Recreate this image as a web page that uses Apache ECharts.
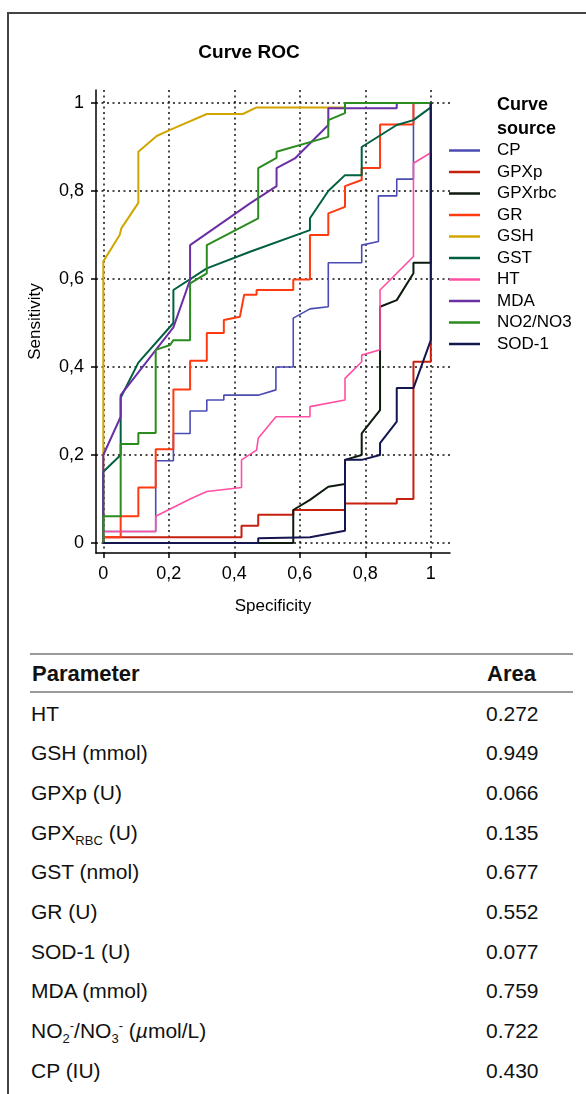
<!DOCTYPE html>
<html>
<head>
<meta charset="utf-8">
<script src="https://cdn.jsdelivr.net/npm/echarts@6/dist/echarts.min.js"></script>
<style>
html,body{margin:0;padding:0;background:#fff;}
body{width:586px;height:1094px;position:relative;overflow:hidden;font-family:"Liberation Sans",Arial,Helvetica,sans-serif;color:#111;}
#frame{position:absolute;left:7px;top:12px;width:620px;height:1120px;border-top:2px solid #444;border-left:2px solid #444;}
#chart{position:absolute;left:0;top:0;width:586px;height:640px;}
.rule{position:absolute;left:30px;width:543px;height:0;border-top:2px solid #9a9a9a;}
.cell{position:absolute;white-space:nowrap;line-height:24px;height:24px;}
.cell sub,.cell sup{font-size:13px;line-height:0;}
</style>
</head>
<body>
<div id="frame"></div>
<div id="chart"></div>
<div id="table"></div>
<script>
// ---------- data ----------
const seriesNames = ['CP','GPXp','GPXrbc','GR','GSH','GST','HT','MDA','NO2/NO3','SOD-1'];
const tickValues = [0, 0.2, 0.4, 0.6, 0.8, 1];

const cpCurve = [[0,0],[0,0.026],[0.16,0.026],[0.16,0.187],[0.214,0.187],[0.214,0.249],[0.265,0.249],[0.265,0.3],[0.316,0.3],[0.316,0.325],[0.368,0.325],[0.368,0.336],[0.473,0.336],[0.527,0.348],[0.527,0.4],[0.58,0.4],[0.58,0.511],[0.631,0.532],[0.687,0.537],[0.687,0.637],[0.789,0.637],[0.789,0.677],[0.84,0.685],[0.84,0.789],[0.896,0.789],[0.896,0.827],[0.947,0.827],[0.947,1],[1,1]];
const gpxpCurve = [[0,0],[0,0.013],[0.422,0.013],[0.422,0.039],[0.473,0.039],[0.473,0.064],[0.58,0.064],[0.58,0.075],[0.738,0.075],[0.738,0.09],[0.896,0.09],[0.896,0.1],[0.947,0.1],[0.947,0.412],[1,0.412],[1,1]];
const gpxrbcCurve = [[0,0],[0.58,0],[0.58,0.075],[0.631,0.098],[0.687,0.128],[0.738,0.134],[0.738,0.189],[0.789,0.2],[0.789,0.249],[0.845,0.302],[0.845,0.537],[0.896,0.552],[0.947,0.613],[0.947,0.637],[1,0.637],[1,1]];
const grCurve = [[0,0],[0,0.013],[0.053,0.013],[0.053,0.061],[0.107,0.061],[0.107,0.126],[0.16,0.126],[0.16,0.213],[0.214,0.213],[0.214,0.349],[0.265,0.349],[0.265,0.414],[0.316,0.414],[0.316,0.477],[0.368,0.477],[0.368,0.507],[0.417,0.514],[0.43,0.564],[0.468,0.564],[0.468,0.575],[0.58,0.575],[0.58,0.599],[0.631,0.599],[0.631,0.7],[0.687,0.7],[0.687,0.749],[0.738,0.764],[0.738,0.811],[0.789,0.825],[0.789,0.852],[0.845,0.852],[0.845,0.951],[0.947,0.951],[0.947,1],[1,1]];
const gshCurve = [[0,0],[0,0.64],[0.05,0.7],[0.055,0.715],[0.107,0.773],[0.107,0.889],[0.163,0.925],[0.204,0.939],[0.316,0.975],[0.426,0.975],[0.468,0.99],[0.738,0.99],[0.738,1],[1,1]];
const gstCurve = [[0,0],[0,0.162],[0.053,0.2],[0.053,0.33],[0.107,0.41],[0.214,0.5],[0.214,0.575],[0.316,0.624],[0.448,0.662],[0.631,0.711],[0.631,0.738],[0.687,0.8],[0.738,0.836],[0.789,0.836],[0.789,0.9],[0.896,0.95],[0.947,0.961],[1,0.99],[1,1]];
const htCurve = [[0,0],[0,0.026],[0.16,0.026],[0.16,0.061],[0.265,0.1],[0.316,0.117],[0.422,0.126],[0.422,0.189],[0.468,0.211],[0.473,0.238],[0.527,0.287],[0.631,0.287],[0.631,0.31],[0.738,0.325],[0.738,0.374],[0.789,0.412],[0.789,0.427],[0.845,0.439],[0.845,0.575],[0.947,0.651],[0.947,0.863],[1,0.887],[1,1]];
const mdaCurve = [[0,0],[0,0.2],[0.053,0.287],[0.053,0.336],[0.214,0.49],[0.265,0.598],[0.265,0.677],[0.448,0.772],[0.529,0.811],[0.529,0.852],[0.585,0.874],[0.687,0.95],[0.687,0.988],[0.896,0.988],[0.896,1],[1,1]];
const no2no3Curve = [[0,0],[0,0.061],[0.053,0.061],[0.053,0.225],[0.107,0.225],[0.107,0.25],[0.16,0.25],[0.16,0.439],[0.204,0.45],[0.214,0.461],[0.265,0.461],[0.265,0.59],[0.316,0.613],[0.316,0.677],[0.473,0.738],[0.473,0.852],[0.529,0.875],[0.529,0.889],[0.687,0.923],[0.687,0.961],[0.738,0.977],[0.738,1],[1,1]];
const sodCurve = [[0,0],[0.473,0],[0.473,0.011],[0.631,0.013],[0.738,0.028],[0.738,0.189],[0.789,0.189],[0.845,0.2],[0.845,0.227],[0.896,0.276],[0.896,0.352],[0.947,0.352],[1,0.461],[1,1]];

const tableParams = ['HT','GSH (mmol)','GPXp (U)','GPX<sub>RBC</sub> (U)','GST (nmol)','GR (U)','SOD-1 (U)','MDA (mmol)','NO<sub>2</sub><sup>-</sup>/NO<sub>3</sub><sup>-</sup> (<i>µ</i>mol/L)','CP (IU)'];
const tableAreas = ['0.272','0.949','0.066','0.135','0.677','0.552','0.077','0.759','0.722','0.430'];

// ---------- styles ----------
const curves = [cpCurve,gpxpCurve,gpxrbcCurve,grCurve,gshCurve,gstCurve,htCurve,mdaCurve,no2no3Curve,sodCurve];
const colors = ['#4b4bb4','#c8200f','#0d1a0d','#ff3a10','#d2a600','#00603f','#ff4fa3','#6b2fa5','#2a8c1e','#151550'];
const widths = [1.6,2,2,2,2,2,1.6,2,2,2];
const FONT = '"Liberation Sans", Arial, Helvetica, sans-serif';

function fmt(v){ return String(v).replace('.', ','); }

const chart = echarts.init(document.getElementById('chart'));
const axisCommon = {
  type:'value',
  nameLocation:'middle',
  nameTextStyle:{fontSize:17,color:'#000',fontFamily:FONT},
  axisLine:{show:true,onZero:false,lineStyle:{color:'#000',width:1.5}},
  axisTick:{show:true,customValues:tickValues,length:5,lineStyle:{color:'#000',width:1.5}},
  axisLabel:{show:true,customValues:tickValues,formatter:fmt,fontSize:18,color:'#000',fontFamily:FONT,margin:12},
  splitLine:{show:true,lineStyle:{color:'#111',type:[2,3.5],width:1.5}}
};
chart.setOption({
  animation:false,
  textStyle:{fontFamily:FONT},
  title:[
    {text:'Curve ROC',left:249,top:43,padding:0,textAlign:'center',textStyle:{fontSize:19,fontWeight:'bold',color:'#000',fontFamily:FONT}},
    {text:'Curve\nsource',left:497,top:93,padding:0,textStyle:{fontSize:18,fontWeight:'bold',lineHeight:24,color:'#000',fontFamily:FONT}}
  ],
  legend:{
    orient:'vertical',left:449,top:142,padding:0,icon:'rect',itemWidth:31,itemHeight:2.5,itemGap:4.5,
    textStyle:{fontSize:17,lineHeight:17,color:'#000',fontFamily:FONT,padding:[0,0,0,12]},
    data:seriesNames
  },
  grid:{left:96,top:90,width:354,height:463,containLabel:false},
  xAxis:Object.assign({},axisCommon,{min:-0.0223,max:1.0586,name:'Specificity',nameGap:45}),
  yAxis:Object.assign({},axisCommon,{min:-0.0227,max:1.0295,name:'Sensitivity',nameGap:52}),
  series:seriesNames.map((n,i)=>({
    name:n,type:'line',data:curves[i],showSymbol:false,symbol:'none',
    lineStyle:{color:colors[i],width:widths[i]},itemStyle:{color:colors[i]},z:2
  }))
});

// ---------- table ----------
const tbl = document.getElementById('table');
function addRule(y){ const d=document.createElement('div'); d.className='rule'; d.style.top=y+'px'; tbl.appendChild(d); }
function addCell(html,x,cy,size,bold){
  const d=document.createElement('div'); d.className='cell';
  d.style.left=x+'px'; d.style.top=(cy-12)+'px'; d.style.fontSize=size+'px';
  if(bold) d.style.fontWeight='bold';
  d.innerHTML=html; tbl.appendChild(d);
}
addRule(653);
addRule(691);
addCell('Parameter',32,674,22,true);
addCell('Area',487,674,22,true);
tableParams.forEach((p,i)=>{
  const cy = 713.5 + i*39.7;
  addCell(p,31,cy,21,false);
  addCell(tableAreas[i],486,cy,21,false);
});
</script>
</body>
</html>
